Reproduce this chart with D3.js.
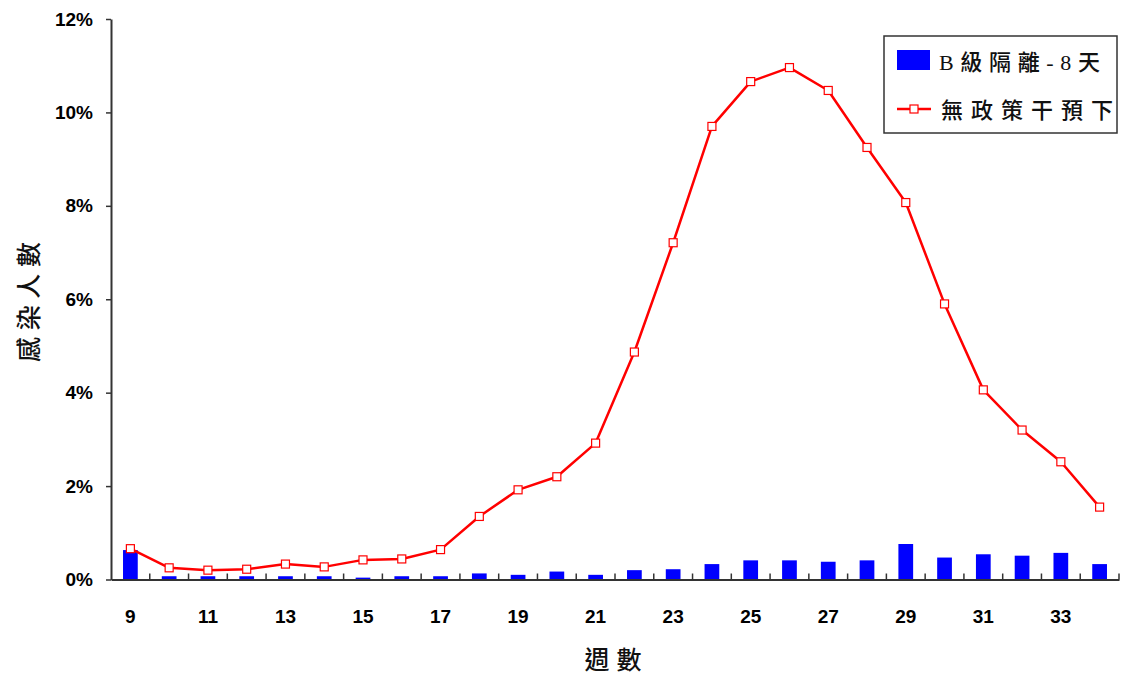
<!DOCTYPE html>
<html>
<head>
<meta charset="utf-8">
<script src="https://cdn.jsdelivr.net/npm/d3@7"></script>
<style>
  html, body { margin: 0; padding: 0; background: #fff; }
  svg { display: block; }
  .axis path, .axis line { stroke: #333; }
  .tick text { font-family: "Liberation Sans Narrow", "Liberation Sans", Arial, sans-serif; font-weight: bold; font-size: 19px; fill: #000; }
  .cjk { font-family: "Noto Sans CJK TC", "Noto Sans CJK SC", sans-serif; fill: #111; font-weight: 500; }
  .legend-text { font-family: "Liberation Serif", "Noto Sans CJK TC", serif; fill: #111; font-weight: 500; }
</style>
</head>
<body>
<svg id="chart" width="1121" height="679"></svg>
<script>
// Week numbers on the horizontal axis
const weeks = [9, 10, 11, 12, 13, 14, 15, 16, 17, 18, 19, 20, 21, 22, 23, 24, 25, 26, 27, 28, 29, 30, 31, 32, 33, 34];
// Labelled weeks
const weekLabels = [9, 11, 13, 15, 17, 19, 21, 23, 25, 27, 29, 31, 33];
// Share infected, grade-B isolation for 8 days (bars)
const isolationB8 = [0.0063, 0.0007, 0.0007, 0.0007, 0.0007, 0.0007, 0.0004, 0.0007, 0.0007, 0.0013,
                     0.0010, 0.0017, 0.0010, 0.0020, 0.0022, 0.0033, 0.0041, 0.0041, 0.0038, 0.0041,
                     0.0076, 0.0047, 0.0054, 0.0051, 0.0057, 0.0033];
// Share infected with no policy intervention (line)
const noPolicy = [0.0066, 0.0025, 0.0020, 0.0022, 0.0033, 0.0027, 0.0042, 0.0044, 0.0064, 0.0135,
                  0.0192, 0.0220, 0.0292, 0.0487, 0.0721, 0.0970, 0.1066, 0.1096, 0.1047, 0.0925,
                  0.0807, 0.0590, 0.0406, 0.0320, 0.0252, 0.0155];
// Percent ticks on the vertical axis
const yTicks = [0, 0.02, 0.04, 0.06, 0.08, 0.10, 0.12];
const seriesNames = ["B級隔離-8天", "無政策干預下"];

const svg = d3.select("#chart");
svg.append("rect").attr("width", 1121).attr("height", 679).attr("fill", "#fff");

const plotLeft = 111, plotRight = 1119, plotTop = 19, plotBottom = 579.5;

const x = d3.scaleBand().domain(weeks).range([plotLeft, plotRight]).paddingInner(0.62).paddingOuter(0.31);
const xStep = x.step();
const cx = w => x(w) + x.bandwidth() / 2;
const y = d3.scaleLinear().domain([0, 0.12]).range([plotBottom, plotTop]);

// Bars
svg.append("g").selectAll("rect")
  .data(weeks.map((w, i) => ({ w, v: isolationB8[i] })))
  .join("rect")
  .attr("x", d => x(d.w))
  .attr("width", x.bandwidth())
  .attr("y", d => y(d.v))
  .attr("height", d => y(0) - y(d.v))
  .attr("fill", "#0000ff");

// Y axis
const yAxis = svg.append("g").attr("class", "axis")
  .attr("transform", `translate(${plotLeft},0)`)
  .call(d3.axisLeft(y).tickValues(yTicks).tickFormat(d3.format(".0%")).tickSize(5).tickPadding(13).tickSizeOuter(0));
yAxis.select(".domain").attr("stroke-width", 2);
yAxis.selectAll(".tick line").attr("stroke-width", 1.5);

// X axis: labels on odd weeks, ticks between weeks
const xAxis = svg.append("g").attr("class", "axis")
  .attr("transform", `translate(0,${plotBottom})`)
  .call(d3.axisBottom(x).tickValues(weekLabels).tickSize(0).tickPadding(30.5).tickSizeOuter(0));
xAxis.select(".domain").attr("stroke-width", 2);

// Separator ticks at the right edge of every week's slot
const slotEnd = w => cx(w) + xStep / 2;
svg.append("g").selectAll("line")
  .data(weeks)
  .join("line")
  .attr("x1", slotEnd)
  .attr("x2", slotEnd)
  .attr("y1", plotBottom)
  .attr("y2", plotBottom - 6)
  .attr("stroke", "#333")
  .attr("stroke-width", 1.5);

// Line
const line = d3.line().x((d, i) => cx(weeks[i])).y(d => y(d));
svg.append("path")
  .datum(noPolicy)
  .attr("d", line)
  .attr("fill", "none")
  .attr("stroke", "#ff0000")
  .attr("stroke-width", 2.5)
  .attr("stroke-linejoin", "round");

svg.append("g").selectAll("rect")
  .data(noPolicy)
  .join("rect")
  .attr("x", (d, i) => cx(weeks[i]) - 4)
  .attr("y", d => y(d) - 4)
  .attr("width", 8)
  .attr("height", 8)
  .attr("fill", "#fff")
  .attr("stroke", "#ff0000")
  .attr("stroke-width", 1.2);

// Axis titles
svg.append("text").attr("class", "cjk")
  .attr("transform", "translate(38,302) rotate(-90)")
  .attr("text-anchor", "middle")
  .attr("font-size", 25)
  .attr("textLength", 120)
  .attr("lengthAdjust", "spacing")
  .text("感染人數");

svg.append("text").attr("class", "cjk")
  .attr("x", 613).attr("y", 669)
  .attr("text-anchor", "middle")
  .attr("font-size", 25)
  .attr("textLength", 57)
  .attr("lengthAdjust", "spacing")
  .text("週數");

// Legend
const legend = svg.append("g");
legend.append("rect")
  .attr("x", 884).attr("y", 36).attr("width", 233).attr("height", 97)
  .attr("fill", "#fff").attr("stroke", "#333").attr("stroke-width", 1.5);
legend.append("rect")
  .attr("x", 897).attr("y", 50).attr("width", 33).attr("height", 20)
  .attr("fill", "#0000ff");
legend.append("line")
  .attr("x1", 897).attr("x2", 931).attr("y1", 109).attr("y2", 109)
  .attr("stroke", "#ff0000").attr("stroke-width", 2.5);
legend.append("rect")
  .attr("x", 910).attr("y", 105).attr("width", 8).attr("height", 8)
  .attr("fill", "#fff").attr("stroke", "#ff0000").attr("stroke-width", 1.2);
legend.append("text").attr("class", "legend-text")
  .attr("x", 939).attr("y", 70)
  .attr("font-size", 22)
  .attr("textLength", 161)
  .attr("lengthAdjust", "spacing")
  .text(seriesNames[0]);
legend.append("text").attr("class", "legend-text")
  .attr("x", 941).attr("y", 118)
  .attr("font-size", 22)
  .attr("textLength", 172)
  .attr("lengthAdjust", "spacing")
  .text(seriesNames[1]);
</script>
</body>
</html>
